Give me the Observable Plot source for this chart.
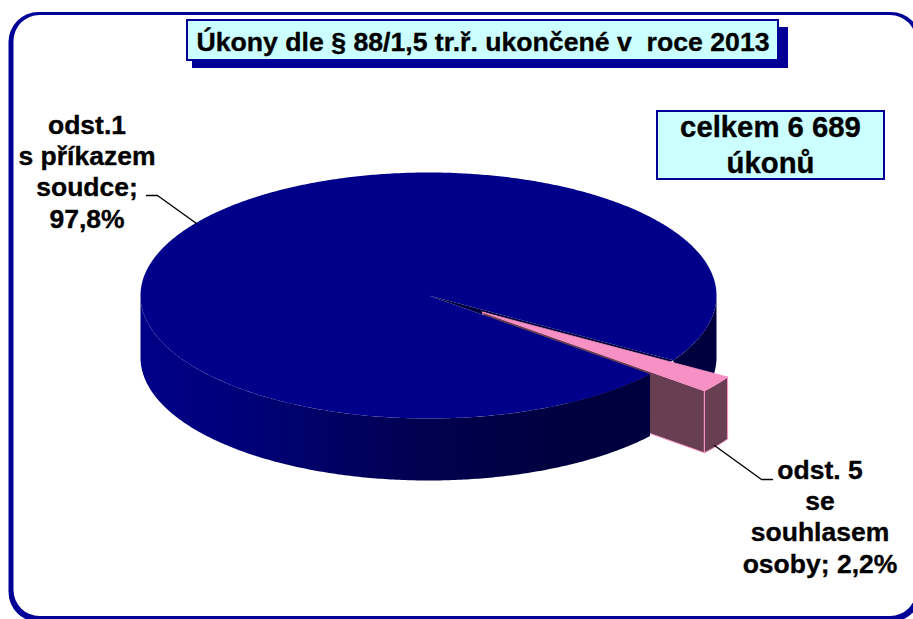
<!DOCTYPE html>
<html>
<head>
<meta charset="utf-8">
<style>html,body{margin:0;padding:0;background:#fff;overflow:hidden}svg{display:block}</style>
<script src="https://cdn.jsdelivr.net/npm/d3@7"></script>
<script src="https://cdn.jsdelivr.net/npm/@observablehq/plot@0.6"></script>
</head>
<body>
<script>
// --- data ---
const categories = ["odst.1\ns příkazem\nsoudce;", "odst. 5\nse\nsouhlasem\nosoby;"];
const shares = [97.8, 2.2];
const shareLabels = ["97,8%", "2,2%"];
const total = "6 689";
const titleText = "Úkony dle § 88/1,5 tr.ř. ukončené v  roce 2013";

// --- pie geometry (layout) ---
const W = 913, H = 619;
const cx = 428, cy = 295, R = 288, tilt = 123 / 288, depth = 62, explode = 67;
const rad = d => d * Math.PI / 180;
const a0 = rad(31.8);                                // start of the small slice
const a1 = a0 + rad(shares[1] / d3.sum(shares) * 360); // end of the small slice
const mid = (a0 + a1) / 2;
const ex = cx + explode * Math.cos(mid), ey = cy + explode * Math.sin(mid) * tilt;

const rim = (c, d, a) => ({x: c + R * Math.cos(a), y: d + R * Math.sin(a) * tilt});
const arc = (c, d, from, to, n = 240) => d3.range(n + 1).map(i => rim(c, d, from + (to - from) * i / n));
const down = p => ({x: p.x, y: p.y + depth});
const wall = (from, to) => {
  const top = arc(cx, cy, from, to);
  return [...top, ...top.map(down).reverse()];
};
const poly = (pts, o) => Plot.line(pts, {x: "x", y: "y", curve: "linear", ...o});

const blue = "#00008b", navy = "#000096", dark = "#00003c", pink = "#f790c4", brown = "#683f52", edge = "#ff99cc";

// wall shading
const defs = () => {
  const d = d3.create("svg:defs");
  const g = d.append("linearGradient").attr("id", "wallGrad").attr("gradientUnits", "userSpaceOnUse")
    .attr("x1", cx - R).attr("x2", cx + R).attr("y1", 0).attr("y2", 0);
  [[0, "#000086"], [0.15, "#00007c"], [0.3, "#000068"], [0.5, "#00004e"], [0.75, "#00003e"], [1, "#00003e"]]
    .forEach(([o, c]) => g.append("stop").attr("offset", o).attr("stop-color", c));
  return d.node();
};

const box = (x1, y1, x2, y2, o) => Plot.rect([{x1, y1, x2, y2}], {x1: "x1", y1: "y1", x2: "x2", y2: "y2", ...o});
const txt = (text, x, y, size, lh) => Plot.text([text], {
  text: d => d, x: () => x, y: () => y, fontSize: size, fontWeight: "bold",
  fontFamily: "Liberation Sans, Arial, sans-serif", fill: "#000", stroke: "#000", strokeWidth: 0.35,
  textAnchor: "middle", lineAnchor: "bottom", lineHeight: lh, lineWidth: Infinity
});

const chart = Plot.plot({
  width: W, height: H, margin: 0,
  x: {domain: [0, W], range: [0, W], axis: null},
  y: {domain: [0, H], range: [0, H], axis: null},
  style: {background: "#fff", whiteSpace: "pre", overflow: "hidden"},
  marks: [
    defs,
    // frame
    box(8.5, 12, 921, 622, {fill: navy, rx: 30}),
    box(13.5, 15, 916, 616, {fill: "#fff", rx: 26}),
    // inside of the gap and right part of the wall
    poly([{x: cx, y: cy}, rim(cx, cy, a0), rim(cx, cy, a1)], {fill: dark, stroke: "none"}),
    poly(wall(0, a0), {fill: "url(#wallGrad)", stroke: "none"}),
    // exploded slice: sides
    poly([{x: ex, y: ey}, rim(ex, ey, a1), down(rim(ex, ey, a1)), {x: ex, y: ey + depth}, {x: ex, y: ey}],
      {fill: brown, stroke: edge, strokeWidth: 1}),
    poly((() => { const t = arc(ex, ey, a0, a1, 12); return [...t, ...t.map(down).reverse(), t[0]]; })(),
      {fill: brown, stroke: edge, strokeWidth: 1}),
    // large slice: wall and top
    poly(wall(a1, Math.PI), {fill: "url(#wallGrad)", stroke: "none"}),
    poly([{x: cx, y: cy}, ...arc(cx, cy, a1, a0 + 2 * Math.PI, 720)], {fill: blue, stroke: "none"}),
    // exploded slice: top
    poly([{x: ex, y: ey}, ...arc(ex, ey, a0, a1, 12), {x: ex, y: ey}], {fill: pink, stroke: pink, strokeWidth: 0.8}),
    // leader lines
    poly([{x: 146, y: 195}, {x: 157, y: 195}, {x: 196, y: 223}], {stroke: "#000", strokeWidth: 1.4}),
    poly([{x: 714, y: 445}, {x: 761, y: 479}, {x: 772, y: 479}], {stroke: "#000", strokeWidth: 1.4}),
    // labels
    txt(`${categories[0]}\n${shareLabels[0]}`, 86.5, 227, 26.5, 1.18),
    txt(`${categories[1]} ${shareLabels[1]}`, 819.5, 572, 26.5, 1.18),
    // title
    box(192, 27, 788, 68, {fill: navy}),
    box(187, 20, 778, 60, {fill: "#ccffff", stroke: navy, strokeWidth: 2}),
    txt(titleText, 482.5, 50, 26.65, 1.2),
    // total
    box(657, 111, 884, 179, {fill: "#ccffff", stroke: navy, strokeWidth: 2}),
    txt(`celkem ${total}\núkonů`, 770, 172, 29.3, 1.2)
  ]
});
document.body.appendChild(chart);
</script>
</body>
</html>
